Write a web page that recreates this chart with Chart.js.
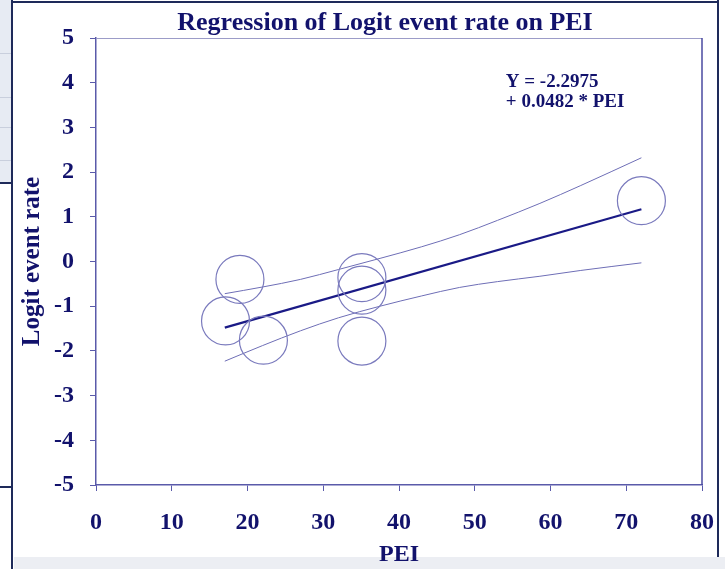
<!DOCTYPE html>
<html lang="en">

<head>
    <meta charset="UTF-8">
    <title>Regression of Logit event rate on PEI</title>
    <style>
        html,
        body {
            margin: 0;
            padding: 0;
            background: #ffffff;
        }

        .slide {
            position: relative;
            width: 725px;
            height: 569px;
            overflow: hidden;
            background: #ffffff;
        }

        /* bits of the slide behind the chart */
        .side-panel {
            position: absolute;
            left: 0;
            top: 0;
            width: 12px;
            height: 182px;
            background: #e7ebf3;
        }

        .side-rule {
            position: absolute;
            left: 0;
            width: 12px;
            height: 1px;
            background: #c9cfdd;
        }

        .frame-line {
            position: absolute;
            background: #1e2a5a;
        }

        .bottom-strip {
            position: absolute;
            left: 14px;
            top: 557px;
            width: 711px;
            height: 12px;
            background: #eceef3;
        }

        canvas {
            position: absolute;
            left: 0;
            top: 0;
        }
    </style>
</head>

<body>
    <div class="slide">
        <div class="side-panel"></div>
        <div class="side-rule" style="top: 53px;"></div>
        <div class="side-rule" style="top: 97px;"></div>
        <div class="side-rule" style="top: 127px;"></div>
        <div class="side-rule" style="top: 160px;"></div>
        <div class="frame-line" style="left: 11px; top: 0; width: 2px; height: 569px;"></div>
        <div class="frame-line" style="left: 0; top: 182px; width: 12px; height: 2px;"></div>
        <div class="frame-line" style="left: 0; top: 486px; width: 12px; height: 2px;"></div>
        <div class="frame-line" style="left: 12px; top: 1px; width: 706px; height: 2px;"></div>
        <div class="frame-line" style="left: 717px; top: 0; width: 2px; height: 566px;"></div>
        <div class="bottom-strip"></div>
        <canvas id="regChart" width="725" height="569"></canvas>
    </div>

    <script src="https://cdn.jsdelivr.net/npm/chart.js"></script>
    <script>
        // studies (circle centres)
        const peiValues = [17.1, 19.0, 22.1, 35.1, 35.1, 35.1, 72.0];
        const logitValues = [-1.33, -0.40, -1.76, -0.36, -0.64, -1.78, 1.36];

        // fitted line Y = -2.2975 + 0.0482 * PEI
        const fitX = [17, 72];
        const fitY = [-1.48, 1.17];

        // confidence band
        const bandX = [17, 22, 27, 32, 37.5, 43, 48, 53, 58.6, 64, 72];
        const upperBand = [-0.72, -0.57, -0.40, -0.18, 0.07, 0.33, 0.60, 0.92, 1.30, 1.70, 2.32];
        const lowerBand = [-2.23, -1.88, -1.55, -1.26, -1.00, -0.77, -0.58, -0.45, -0.33, -0.20, -0.03];

        const xTickValues = [0, 10, 20, 30, 40, 50, 60, 70, 80];
        const yTickValues = [-5, -4, -3, -2, -1, 0, 1, 2, 3, 4, 5];

        const chartTitle = 'Regression of Logit event rate on PEI';
        const equationLines = ['Y = -2.2975', '+ 0.0482 * PEI'];

        const navy = '#12126c';
        const axisColor = '#5a5aaa';
        const circleColor = '#7a7abd';
        const serif = '"Liberation Serif", "Times New Roman", serif';

        const toPoints = (xs, ys) => xs.map((x, i) => ({ x: x, y: ys[i] }));

        const textPlugin = {
            id: 'slideText',
            afterDraw(chart) {
                const ctx = chart.ctx;
                const xs = chart.scales.x;
                const ys = chart.scales.y;
                const area = chart.chartArea;
                ctx.save();

                // frame of the plot area (top and right)
                ctx.strokeStyle = '#9c9cc8';
                ctx.lineWidth = 1;
                ctx.beginPath();
                ctx.moveTo(area.left, area.top + 0.5);
                ctx.lineTo(area.right, area.top + 0.5);
                ctx.stroke();
                ctx.strokeStyle = '#4a4aa0';
                ctx.lineWidth = 1.5;
                ctx.beginPath();
                ctx.moveTo(area.right, area.top);
                ctx.lineTo(area.right, area.bottom);
                ctx.stroke();

                // title
                ctx.fillStyle = navy;
                ctx.font = 'bold 26px ' + serif;
                ctx.textAlign = 'center';
                ctx.textBaseline = 'alphabetic';
                ctx.fillText(chartTitle, 385, 30);

                // equation
                ctx.font = 'bold 19px ' + serif;
                ctx.textAlign = 'left';
                const ex = xs.getPixelForValue(54.1);
                const ey = ys.getPixelForValue(3.91);
                equationLines.forEach((line, i) => ctx.fillText(line, ex, ey + i * 20));
                ctx.restore();
            }
        };

        const axisFont = { family: serif, size: 24, weight: 'bold' };

        const ctx = document.getElementById('regChart').getContext('2d');
        const regChart = new Chart(ctx, {
            data: {
                datasets: [
                    {
                        type: 'scatter',
                        data: toPoints(peiValues, logitValues),
                        pointRadius: 24,
                        pointHoverRadius: 24,
                        borderColor: circleColor,
                        backgroundColor: 'rgba(0,0,0,0)',
                        borderWidth: 1.2
                    },
                    {
                        type: 'line',
                        data: toPoints(fitX, fitY),
                        borderColor: '#1a1a86',
                        borderWidth: 2.2,
                        pointRadius: 0,
                        fill: false
                    },
                    {
                        type: 'line',
                        data: toPoints(bandX, upperBand),
                        borderColor: '#6e6eb6',
                        borderWidth: 1,
                        pointRadius: 0,
                        cubicInterpolationMode: 'monotone',
                        fill: false
                    },
                    {
                        type: 'line',
                        data: toPoints(bandX, lowerBand),
                        borderColor: '#6e6eb6',
                        borderWidth: 1,
                        pointRadius: 0,
                        cubicInterpolationMode: 'monotone',
                        fill: false
                    }
                ]
            },
            options: {
                responsive: false,
                animation: false,
                events: [],
                layout: {
                    autoPadding: false,
                    padding: { top: 38, right: 23, left: 0, bottom: 0 }
                },
                scales: {
                    x: {
                        type: 'linear',
                        min: 0,
                        max: 80,
                        afterBuildTicks: (scale) => {
                            scale.ticks = xTickValues.map(v => ({ value: v }));
                        },
                        afterFit: (scale) => {
                            scale.height = 84;
                            scale.paddingLeft = 0;
                            scale.paddingRight = 0;
                        },
                        ticks: {
                            autoSkip: false,
                            maxRotation: 0,
                            padding: 17,
                            color: navy,
                            font: axisFont
                        },
                        grid: {
                            drawOnChartArea: false,
                            tickLength: 6,
                            color: axisColor
                        },
                        border: { color: axisColor, width: 1.5 },
                        title: {
                            display: true,
                            text: 'PEI',
                            color: navy,
                            font: axisFont,
                            padding: { top: 0, bottom: 0 }
                        }
                    },
                    y: {
                        type: 'linear',
                        min: -5,
                        max: 5,
                        afterBuildTicks: (scale) => {
                            scale.ticks = yTickValues.map(v => ({ value: v }));
                        },
                        afterFit: (scale) => {
                            scale.width = 96;
                        },
                        ticks: {
                            autoSkip: false,
                            padding: 16,
                            color: navy,
                            font: axisFont
                        },
                        grid: {
                            drawOnChartArea: false,
                            tickLength: 6,
                            color: axisColor
                        },
                        border: { color: axisColor, width: 1.5 },
                        title: {
                            display: true,
                            text: 'Logit event rate',
                            color: navy,
                            font: { family: serif, size: 25, weight: 'bold' },
                            padding: { top: 18, bottom: 0 }
                        }
                    }
                },
                plugins: {
                    legend: { display: false },
                    tooltip: { enabled: false }
                }
            },
            plugins: [textPlugin]
        });
    </script>
</body>

</html>
